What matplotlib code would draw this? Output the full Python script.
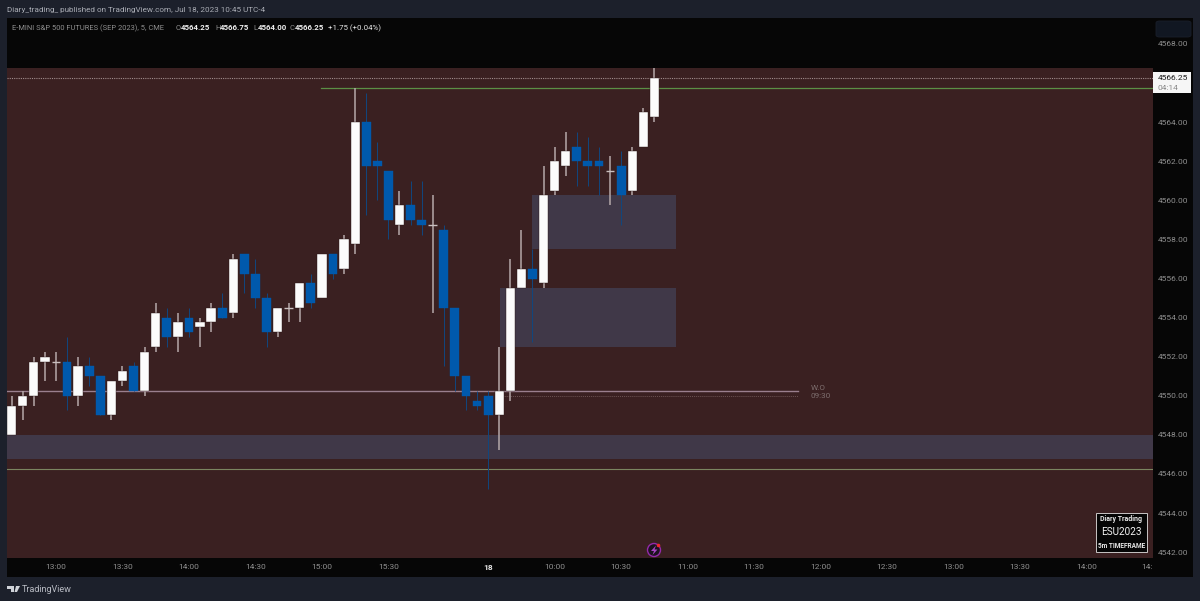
#!/usr/bin/env python

import matplotlib
matplotlib.use("Agg")
import matplotlib.pyplot as plt
from matplotlib.patches import Circle, FancyBboxPatch, Polygon, Rectangle
from matplotlib.transforms import IdentityTransform
import numpy as np

plt.rcParams["font.family"] = ["Roboto", "DejaVu Sans"]

# values, one entry per 5 minute bar
opens = [4548.0, 4549.5, 4550.0, 4551.75, 4551.75, 4551.75, 4550.0, 4551.5, 4551.0, 4549.0,
         4550.75, 4551.5, 4550.25, 4552.5, 4554.0, 4553.0, 4554.0, 4553.5, 4553.75, 4554.5,
         4554.25, 4557.25, 4556.25, 4555.0, 4553.25, 4554.5, 4554.5, 4555.75, 4555.0, 4557.25,
         4556.5, 4557.75, 4564.0, 4562.0, 4561.5, 4558.75, 4559.75, 4559.0, 4558.75, 4558.5,
         4554.5, 4551.0, 4549.75, 4550.0, 4549.0, 4550.25, 4555.5, 4556.5, 4555.75, 4560.5,
         4561.75, 4562.75, 4562.0, 4562.0, 4561.5, 4561.75, 4560.5, 4562.75, 4564.25]
highs = [4550.0, 4550.25, 4552.0, 4552.25, 4552.25, 4553.0, 4552.0, 4552.0, 4551.0, 4550.75,
         4551.5, 4551.75, 4552.5, 4554.75, 4554.5, 4554.25, 4554.5, 4554.0, 4554.75, 4555.25,
         4557.25, 4557.25, 4557.0, 4555.25, 4554.5, 4554.75, 4555.75, 4556.25, 4557.25, 4557.25,
         4558.25, 4565.75, 4565.5, 4563.0, 4561.5, 4560.5, 4561.0, 4561.0, 4560.25, 4558.75,
         4554.5, 4551.0, 4550.25, 4550.25, 4552.5, 4557.0, 4558.5, 4557.5, 4561.75, 4562.75,
         4563.5, 4563.5, 4563.25, 4562.75, 4562.25, 4562.5, 4562.75, 4564.75, 4566.75]
lows = [4548.0, 4548.75, 4549.5, 4550.75, 4550.75, 4549.25, 4549.5, 4550.5, 4549.0, 4548.75,
        4550.5, 4550.25, 4550.0, 4552.25, 4552.5, 4552.25, 4553.0, 4552.5, 4553.25, 4554.0,
        4554.0, 4555.25, 4554.5, 4552.5, 4553.0, 4553.75, 4553.75, 4554.5, 4555.0, 4556.0,
        4556.25, 4557.25, 4559.25, 4560.0, 4558.0, 4558.25, 4558.75, 4558.25, 4554.25, 4551.5,
        4550.25, 4549.25, 4549.25, 4545.25, 4547.25, 4549.75, 4555.5, 4552.75, 4555.5, 4560.25,
        4561.25, 4560.75, 4560.75, 4560.25, 4559.75, 4558.75, 4560.25, 4562.75, 4564.0]
closes = [4549.5, 4550.0, 4551.75, 4552.0, 4551.75, 4550.0, 4551.5, 4551.0, 4549.0, 4550.75,
          4551.25, 4550.25, 4552.25, 4554.25, 4553.0, 4553.75, 4553.25, 4553.75, 4554.5, 4554.0,
          4557.0, 4556.25, 4555.0, 4553.25, 4554.5, 4554.5, 4555.75, 4554.75, 4557.25, 4556.25,
          4558.0, 4564.0, 4561.75, 4561.75, 4559.0, 4559.75, 4559.0, 4558.75, 4558.75, 4554.5,
          4551.0, 4550.0, 4549.5, 4549.0, 4550.25, 4555.5, 4556.5, 4556.0, 4560.25, 4562.0,
          4562.5, 4562.0, 4561.75, 4561.75, 4561.5, 4560.25, 4562.5, 4564.5, 4566.25]

price_ticks = [4542, 4544, 4546, 4548, 4550, 4552, 4554, 4556, 4558, 4560, 4562, 4564, 4568]
time_ticks = [4, 10, 16, 22, 28, 34, 43, 49, 55, 61, 67, 73, 79, 85, 91, 97, 102.5]
time_labels = ["13:00", "13:30", "14:00", "14:30", "15:00", "15:30", "18", "10:00", "10:30", "11:00",
               "11:30", "12:00", "12:30", "13:00", "13:30", "14:00", "14:"]

# zones: first bar, last bar, top price, bottom price
zones = [(46.96, 59.96, 4560.25, 4557.5), (44.03, 59.96, 4555.5, 4552.5), (-0.42, 103.0, 4548.0, 4546.75)]

W, H = 1200, 601
BG = "#1c202b"
PANEL = "#060606"
BROWN = "#3a2021"
ZONE = "#403848"
BLUE = "#0059ac"
BLUE_WICK = "#10477f"
WHITE_WICK = "#b5a9a9"
GREY = "#8f8f8f"


def px(x, y):
    return x / W, 1 - y / H


def dots(x, y):
    # figure pixels, so circles stay round
    return x, H - y


def ftext(fig, x, y, s, **kw):
    kw.setdefault("va", "center")
    kw.setdefault("color", "#a9acb4")
    kw.setdefault("fontsize", 6.0)
    return fig.text(x / W, 1 - y / H, s, **kw)


def frame(fig):
    fig.patches.append(Rectangle(px(7, 577), 1186 / W, 559 / H, transform=fig.transFigure,
                                 facecolor=PANEL, edgecolor="none", zorder=-5))
    fig.patches.append(FancyBboxPatch(px(1156, 37), 35 / W, 16 / H, transform=fig.transFigure,
                                      boxstyle="round,pad=0,rounding_size=0.003",
                                      facecolor="#111722", edgecolor="#1a1f2a", lw=0.6))


def candles(ax):
    x = np.arange(len(opens))
    o, h, l, c = map(np.array, (opens, highs, lows, closes))
    up = c >= o
    ax.vlines(x[up], l[up], h[up], color=WHITE_WICK, lw=1.1, zorder=3)
    ax.vlines(x[~up], l[~up], h[~up], color=BLUE_WICK, lw=0.7, zorder=3)
    flat = c == o
    ax.bar(x[up & ~flat], (c - o)[up & ~flat], bottom=o[up & ~flat], width=0.84, color="#fbfbfb",
           edgecolor="#2a1616", lw=0.3, zorder=4)
    ax.bar(x[~up], (o - c)[~up], bottom=c[~up], width=0.8, color=BLUE, edgecolor=BLUE, lw=0.3, zorder=4)
    ax.hlines(c[flat], x[flat] - 0.4, x[flat] + 0.4, color="#c9bfbf", lw=1.0, zorder=4)


def overlays(ax):
    ax.axhspan(4541.7, 4566.75, facecolor=BROWN, edgecolor="none", zorder=0)
    for x0, x1, top, bottom in zones:
        ax.add_patch(Rectangle((x0, bottom), x1 - x0, top - bottom, facecolor=ZONE, edgecolor="none", zorder=1))
    ax.axhline(4566.25, color="#a08c8c", lw=0.8, ls=(0, (1, 1)), zorder=2)
    ax.plot([27.9, 103.0], [4565.75, 4565.75], color="#5b8f45", lw=0.9, zorder=2)
    ax.axhline(4546.25, color="#7b8560", lw=0.8, zorder=2)
    ax.plot([-0.42, 71.0], [4550.25, 4550.25], color="#9a7f8e", lw=1.0, zorder=2)
    ax.plot([44.0, 71.0], [4550.0, 4550.0], color="#6b5252", lw=0.7, ls=(0, (1, 1)), zorder=2)
    ax.text(72.1, 4550.38, "W.O", color="#7d6e6e", fontsize=5.9, va="center", zorder=2)
    ax.text(72.1, 4549.98, "09:30", color="#7d6e6e", fontsize=5.9, va="center", zorder=2)


def price_tag(fig):
    fig.patches.append(Rectangle(px(1153, 93), 38 / W, 21 / H, transform=fig.transFigure,
                                 facecolor="#f6f6f6", edgecolor="none", zorder=5))
    ftext(fig, 1158, 78, "4566.25", color="#1a1a1a", zorder=6)
    ftext(fig, 1158, 88, "04:14", color="#8a8a8a", zorder=6)


def watermark(fig):
    fig.patches.append(Rectangle(px(1096, 552), 51 / W, 39 / H, transform=fig.transFigure,
                                 facecolor="#050505", edgecolor="#c9c5c5", lw=0.7, zorder=5))
    ftext(fig, 1121.5, 519, "Diary Trading", color="#e8e8e8", fontsize=5.0, ha="center", weight="bold", zorder=6)
    ftext(fig, 1121.5, 532, "ESU2023", color="#f2f2f2", fontsize=7.2, ha="center", zorder=6)
    ftext(fig, 1121.5, 546, "5m TIMEFRAME", color="#e8e8e8", fontsize=4.7, ha="center", weight="bold", zorder=6)


def bolt(fig):
    tr = IdentityTransform()
    fig.patches.append(Circle(dots(654, 550), 6.5, transform=tr, zorder=7,
                              facecolor="#1c1320", edgecolor="#9429ab", lw=1.0))
    pts = [(656, 545.5), (651, 551), (654, 551), (652.5, 555), (657.5, 549.5), (654.5, 549.5)]
    fig.patches.append(Polygon([dots(*p) for p in pts], transform=tr,
                               facecolor="#a846c4", edgecolor="none", zorder=8))
    fig.patches.append(Circle(dots(658.5, 545.5), 1.8, transform=tr,
                              facecolor="#f0262d", edgecolor="none", zorder=9))


def logo(fig):
    tr = IdentityTransform()
    shapes = [[(7, 586), (14, 586), (14, 592), (11, 592), (11, 589), (7, 589)],
              [(16, 586), (20, 586), (17, 592), (14.5, 592)]]
    for s in shapes:
        fig.patches.append(Polygon([dots(*p) for p in s], transform=tr,
                                   facecolor="#cfd2d8", edgecolor="none"))
    ftext(fig, 22, 589.5, "TradingView", color="#b9bcc4", fontsize=6.5)


def header(fig):
    ftext(fig, 7, 10, "Diary_trading_ published on TradingView.com, Jul 18, 2023 10:45 UTC-4", fontsize=5.85)
    ftext(fig, 12, 28, "E-MINI S&P 500 FUTURES (SEP 2023), 5, CME", color="#8f8f8f", fontsize=5.45)
    for x, letter, value in [(176, "O", "4564.25"), (215, "H", "4566.75"), (253, "L", "4564.00"), (290, "C", "4566.25")]:
        ftext(fig, x, 28, letter, color="#8f8f8f", fontsize=5.45)
        ftext(fig, x + 4.5, 28, value, color="#efefef", fontsize=5.7, weight="bold")
    ftext(fig, 328, 28, "+1.75 (+0.04%)", color="#e6e6e6", fontsize=5.7)


def main():
    fig = plt.figure(figsize=(W / 100, H / 100), dpi=100, facecolor=BG)
    frame(fig)

    ax = fig.add_axes([7 / W, 1 - 558 / H, 1146 / W, 540 / H], facecolor=PANEL)
    ax.set_xlim(-0.42, 103.0)
    ax.set_ylim(4541.70, 4569.33)
    overlays(ax)
    candles(ax)

    ax.yaxis.tick_right()
    ax.set_yticks(price_ticks)
    ax.set_yticklabels(["{:.2f}".format(p) for p in price_ticks])
    ax.set_xticks(time_ticks)
    ax.set_xticklabels(time_labels)
    ax.tick_params(length=0, labelsize=6.0, labelcolor=GREY)
    ax.tick_params(axis="y", pad=3.5)
    ax.tick_params(axis="x", pad=4.5)
    for lab in ax.get_xticklabels():
        if lab.get_text() == "18":
            lab.set_color("#e6e6e6")
            lab.set_fontweight("bold")
    for s in ax.spines.values():
        s.set_visible(False)

    header(fig)
    price_tag(fig)
    watermark(fig)
    bolt(fig)
    logo(fig)

    fig.savefig("out.png", dpi=100, facecolor=BG)


if __name__ == "__main__":
    main()
